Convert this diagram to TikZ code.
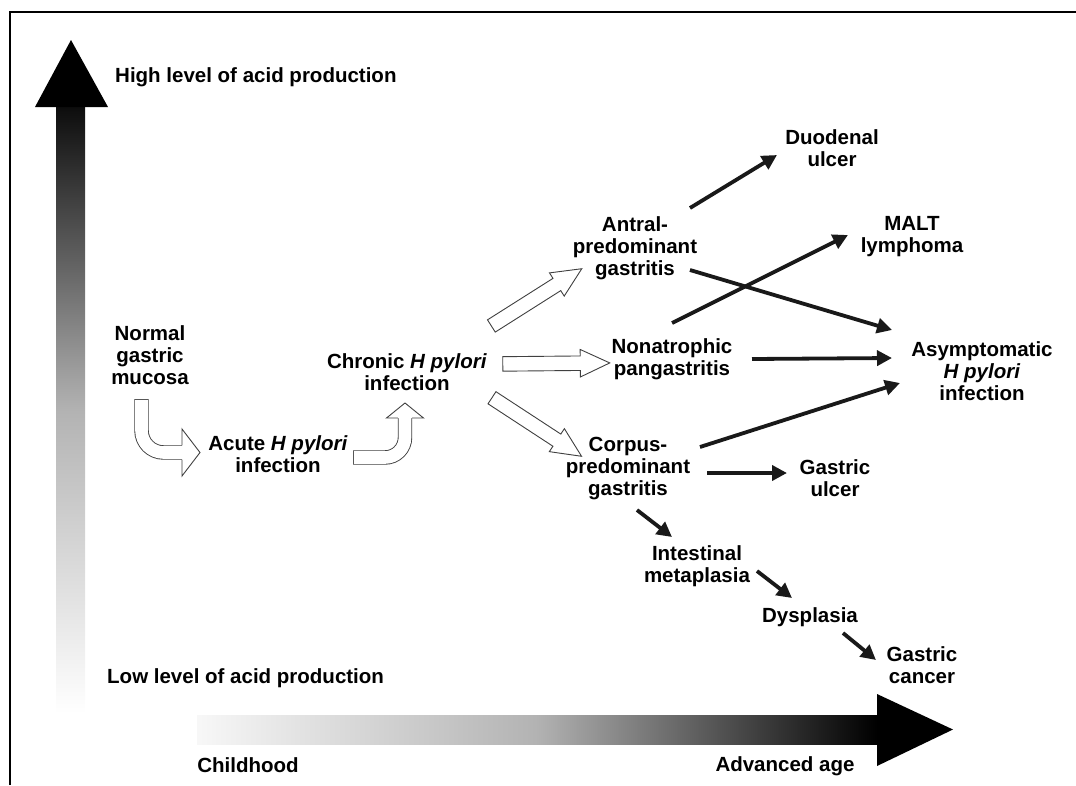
\documentclass[tikz,border=0pt]{standalone}
\usepackage{fontspec}
\setmainfont{Liberation Sans}
\usetikzlibrary{arrows.meta, shapes.arrows}

\tikzset{
  lbl/.style={align=center, inner sep=2pt, font=\bfseries\fontsize{20.5}{22}\selectfont},
  blk/.style={color=black!90, line width=3.8pt, -{Triangle[length=15pt, width=15pt]}},
  hollow/.style={single arrow, draw=black!75, fill=white, line width=0.9pt,
    inner xsep=0pt, inner ysep=6.8pt, single arrow head extend=6.5pt,
    single arrow tip angle=50, minimum height=107pt},
  hshaft/.style={draw=black!75, line width=0.9pt, double=white, double distance=12.6pt, line cap=rect},
  hhead/.style={draw=black!75, fill=white, line width=0.9pt, line join=miter},
}

\begin{document}
\begin{tikzpicture}[x=1pt, y=-1pt]
    \useasboundingbox (0,0) rectangle (1076,785);
    \draw[line width=2.5pt] (10,785) |- (1076,12);

    % acid and age axes
    \shade[top color=black!95, bottom color=white, middle color=black!30] (56,107) rectangle (85,713);
    \fill[black] (35,107) -- (71,40) -- (108,107) -- cycle;
    \shade[left color=black!3, right color=black, middle color=black!30] (197,715) rectangle (877,744);
    \fill[black] (877,694) -- (953,729.5) -- (877,766) -- cycle;

    \node[lbl, anchor=west] (high) at (113,77) {High level of acid production};
    \node[lbl, anchor=west] (low) at (105,678) {Low level of acid production};
    \node[lbl] (child) at (248,765) {Childhood};
    \node[lbl] (old) at (785,766) {Advanced age};

    \node[lbl] (normal) at (150,355) {Normal\\gastric\\mucosa};
    \node[lbl] (acute) at (278,454) {Acute \textit{H pylori}\\infection};
    \node[lbl] (chronic) at (407,372) {Chronic \textit{H pylori}\\infection};
    \node[lbl] (antral) at (635,248) {Antral-\\predominant\\gastritis};
    \node[lbl] (nonatro) at (672,359) {Nonatrophic\\pangastritis};
    \node[lbl] (corpus) at (628,469) {Corpus-\\predominant\\gastritis};
    \node[lbl] (duod) at (832,148) {Duodenal\\ulcer};
    \node[lbl] (malt) at (912,237) {MALT\\lymphoma};
    \node[lbl] (asym) at (982,371) {Asymptomatic\\\textit{H pylori}\\infection};
    \node[lbl] (gulcer) at (835,478) {Gastric\\ulcer};
    \node[lbl] (intmeta) at (697,566) {Intestinal\\metaplasia};
    \node[lbl] (dysp) at (810,617) {Dysplasia};
    \node[lbl] (gcancer) at (922,665) {Gastric\\cancer};

    % curved open arrows
    \coordinate (d-tail) at ([xshift=-8.5pt,yshift=-51.2pt]normal.center);
    \coordinate (d-base) at ([xshift=-96pt,yshift=1.5pt]acute.center);
    \draw[hshaft, rounded corners=22pt] (d-tail) |- (d-base);
    \filldraw[hhead, shift={(d-base)}] (0,-7.2) -- (0,-23.5) -- (18,0) -- (0,23.5) -- (0,7.2);

    \coordinate (e-tail) at ([xshift=82.2pt,yshift=-3.5pt]acute.center);
    \coordinate (e-base) at ([xshift=-2pt,yshift=-46pt]chronic.center);
    \draw[hshaft, rounded corners=20pt] (e-tail) -| (e-base);
    \filldraw[hhead, shift={(e-base)}] (-7.2,0) -- (-18.5,0) -- (0,-15) -- (18.5,0) -- (7.2,0);

    % straight open arrows
    \path ([xshift=78pt,yshift=42pt]chronic.center) -- node[hollow, sloped] {} ([xshift=-60pt,yshift=-25pt]antral.center);
    \path ([xshift=88pt,yshift=8pt]chronic.center) -- node[hollow, sloped] {} ([xshift=-70pt,yshift=-4pt]nonatro.center);
    \path ([xshift=78.5pt,yshift=-21.5pt]chronic.center) -- node[hollow, sloped] {} ([xshift=-53pt,yshift=17pt]corpus.center);

    \path[blk]
    ([xshift=55pt,yshift=40pt]antral.center) edge ([xshift=-55pt,yshift=-7pt]duod.center)
    ([xshift=55pt,yshift=-22pt]antral.center) edge ([xshift=-90pt,yshift=41pt]asym.center)
    ([yshift=36pt]nonatro.center) edge ([xshift=-64pt,yshift=2pt]malt.center)
    ([xshift=80pt]nonatro.center) edge ([xshift=-90pt,yshift=13pt]asym.center)
    ([xshift=72pt,yshift=22pt]corpus.center) edge ([xshift=-82pt,yshift=-12pt]asym.center)
    ([xshift=79pt,yshift=-4pt]corpus.center) edge ([xshift=-48pt,yshift=5pt]gulcer.center)
    ([xshift=9pt,yshift=-41pt]corpus.center) edge ([xshift=-25pt,yshift=29pt]intmeta.center)
    ([xshift=60pt,yshift=-5pt]intmeta.center) edge ([xshift=-18pt,yshift=19pt]dysp.center)
    ([xshift=33pt,yshift=-16pt]dysp.center) edge ([xshift=-46pt,yshift=5pt]gcancer.center);

\end{tikzpicture}
\end{document}
